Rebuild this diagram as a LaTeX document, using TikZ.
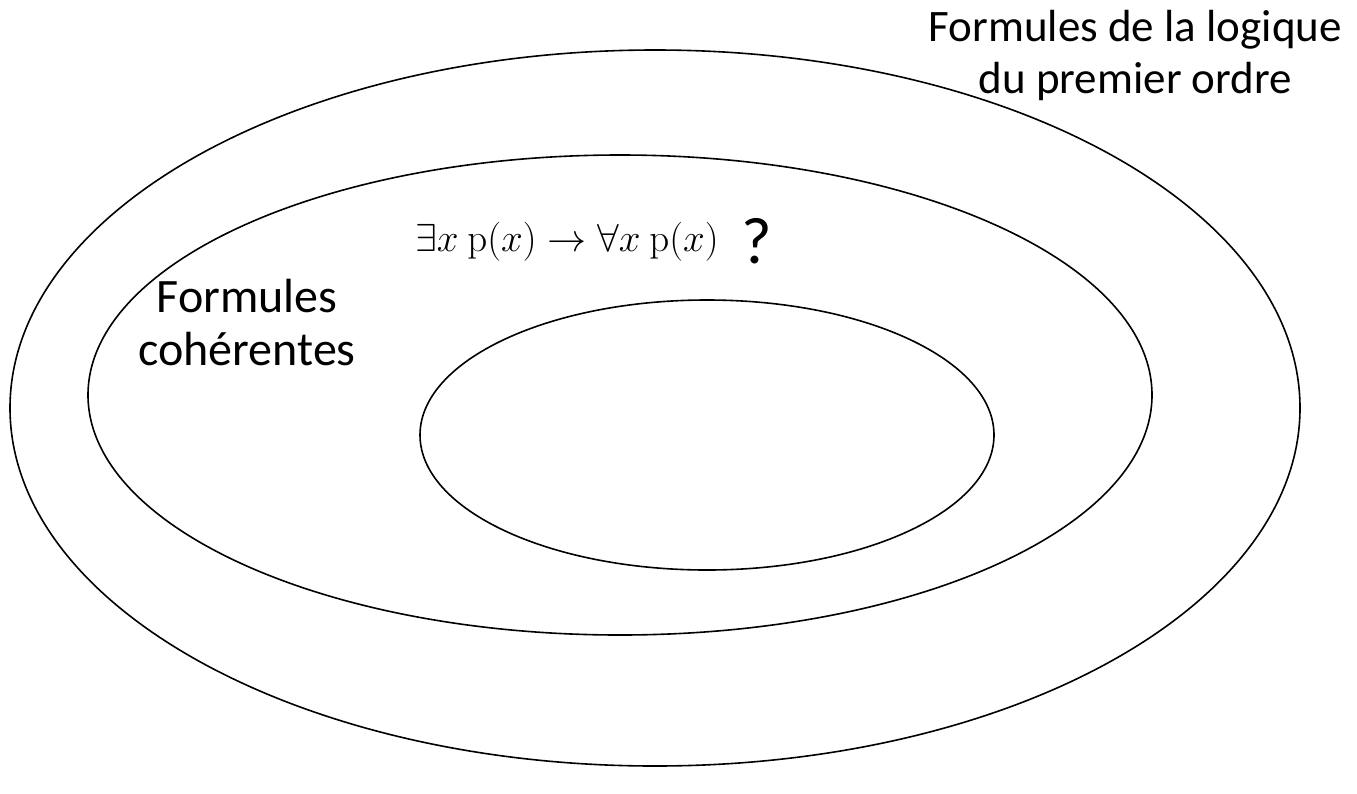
\RequirePackage{fix-cm}
\documentclass[tikz,border=0pt]{standalone}
\usepackage[no-math]{fontspec}
\setmainfont{Carlito}
\begin{document}
\begin{tikzpicture}[x=1pt,y=-1pt,
  ring/.style={draw=black,line width=1.6pt},
  lbl/.style={font=\fontsize{45}{52}\selectfont,inner sep=0pt,align=center}]
\useasboundingbox (0,0) rectangle (1357,793);
\draw[ring] (655,408) ellipse [x radius=645, y radius=358];
\draw[ring] (620,395) ellipse [x radius=532, y radius=240];
\draw[ring] (707,435) ellipse [x radius=287, y radius=135];
\node[lbl,align=center,anchor=north east] (outer) at (1342,10) {Formules de la logique\\du premier ordre};
\node[lbl,font=\fontsize{48}{53}\selectfont] (middle) at (247,323) {Formules\\cohérentes};
\node[inner sep=0pt,anchor=base west,font=\fontsize{39}{46}\selectfont] (formula) at (415,251) {$\exists x\ \mathrm{p}(x) \rightarrow \forall x\ \mathrm{p}(x)$};
\node[inner sep=0pt,anchor=base west,font=\fontsize{66}{72}\selectfont] (q) at (741,263) {?};
\end{tikzpicture}
\end{document}
